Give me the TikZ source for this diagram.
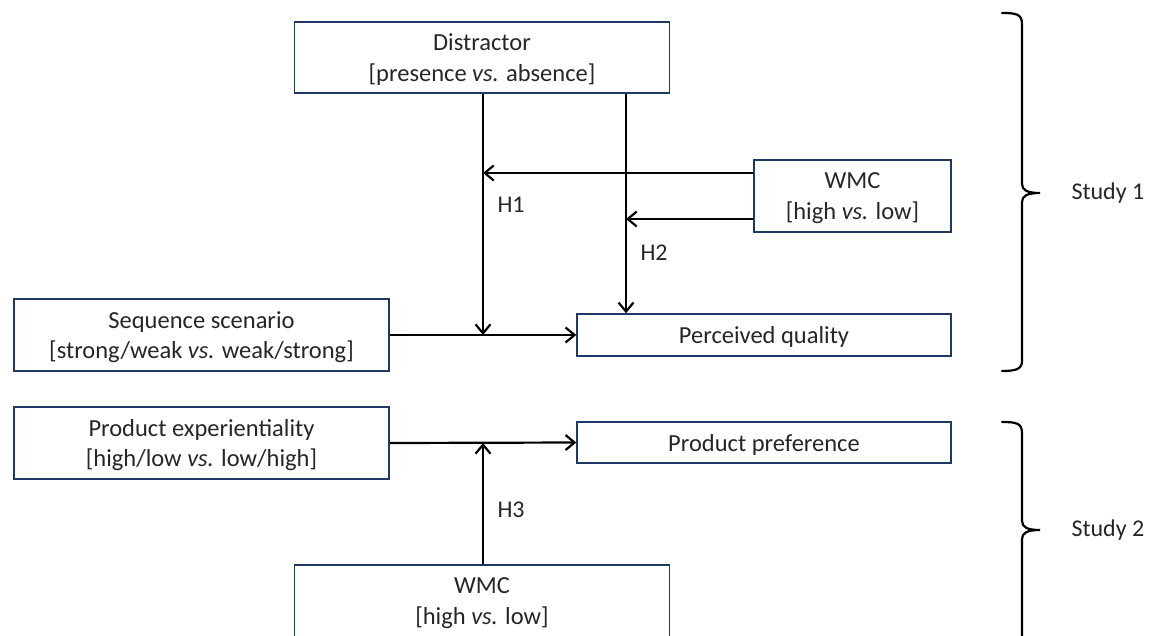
\documentclass[tikz,border=0pt]{standalone}
\usepackage{fontspec}
\setmainfont{Carlito}
\usepackage{tikz}
\usetikzlibrary{arrows.meta,positioning}
\definecolor{boxnavy}{HTML}{203864}
\definecolor{inkgray}{HTML}{262626}
\tikzset{
  var/.style={draw=boxnavy, line width=1.5pt, fill=white, align=center, inner sep=2pt, text depth=0pt, text=inkgray, font=\fontsize{24.5}{30.5}\selectfont},
  varbig/.style={var, minimum width=375pt, minimum height=72pt},
  varsmall/.style={var, minimum width=374pt, minimum height=42pt},
  arr/.style={-{Straight Barb[length=9pt,width=15pt]}, line width=2.2pt, draw=black},
  hyp/.style={anchor=west, text=inkgray, font=\fontsize{24}{30}\selectfont},
  brc/.style={line width=2.2pt, draw=black, line cap=round},
}

\begin{document}
\begin{tikzpicture}[x=1pt, y=-1pt]
  \useasboundingbox (0,0) rectangle (1153,635);
  % study 1
  \node[varbig, minimum height=71pt] (dist) at (482,57.5) {Distractor\\\relax [presence \textit{vs.} absence]};
  \node[var, minimum width=197pt, minimum height=72pt] (wmcA) at (852.5,196) {WMC\\\relax [high \textit{vs.} low]};
  \node[varbig] (seq) at (201.5,335) {Sequence scenario\\\relax [strong/weak \textit{vs.} weak/strong]};
  \node[varsmall] (qual) at (764,335) {Perceived quality};
  % study 2
  \node[varbig] (exper) at (201.5,443) {Product experientiality\\\relax [high/low \textit{vs.} low/high]};
  \node[varsmall, minimum height=41pt] (pref) at (764,442.5) {Product preference};
  \node[varbig] (wmcB) at (482,601) {WMC\\\relax [high \textit{vs.} low]};
  % moderator lines
  \coordinate (cA) at (483,0);
  \coordinate (cB) at (626,0);
  \draw[arr] (seq.east) -- (qual.west);
  \draw[arr] (dist.south -| cA) -- (seq.east -| cA);
  \draw[arr] (dist.south -| cB) -- (qual.north -| cB);
  \draw[arr] ([yshift=23pt]wmcA.west) -- ([yshift=23pt]wmcA.west -| cA);
  \draw[arr] ([yshift=-23pt]wmcA.west) -- ([yshift=-23pt]wmcA.west -| cB);
  \draw[arr] (exper.east) -- (pref.west);
  \draw[arr] (wmcB.north -| cA) -- (exper.east -| cA);
  \node[hyp] (h1) at (494,205) {H1};
  \node[hyp] (h2) at (637,253) {H2};
  \node[hyp] (h3) at (494,510) {H3};
  % braces
  \draw[brc] (1002,13) .. controls (1016,13) and (1022,14) .. (1022,24) -- (1022,184)
    .. controls (1022,190) and (1027,193) .. (1040,193)
    .. controls (1027,193) and (1022,196) .. (1022,202) -- (1022,361)
    .. controls (1022,369) and (1016,371) .. (1002,371);
  \draw[brc] (1002,422) .. controls (1016,422) and (1022,423) .. (1022,433) -- (1022,521)
    .. controls (1022,527) and (1027,530) .. (1040,530)
    .. controls (1027,530) and (1022,533) .. (1022,539) -- (1022,650);
  \node[hyp] (s1) at (1068,193) {Study 1};
  \node[hyp] (s2) at (1068,530) {Study 2};
\end{tikzpicture}
\end{document}
